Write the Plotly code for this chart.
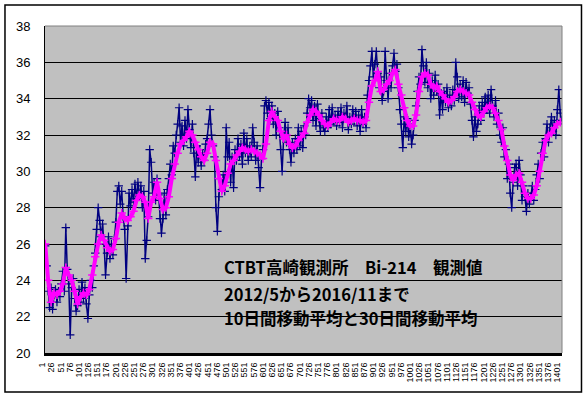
import plotly.graph_objects as go

# ---- data ----
# daily Bi-214 observations, sampled every 4th day (day 1, 5, 9, ...)
raw_step = 4
raw_values = [
    25.9, 24.8, 23.4, 22.5, 23.6, 22.4, 23.2, 23.5, 22.8, 23.4,
    23.1, 23.8, 24.5, 23.4, 26.9, 24.6, 23.8, 21.0, 23.6, 24.1,
    23.0, 22.3, 22.6, 23.5, 22.8, 23.9, 23.0, 23.6, 22.7, 21.9,
    23.2, 24.0, 23.6, 24.8, 25.5, 26.8, 28.0, 27.3, 26.4, 27.1,
    26.0, 24.3, 25.5, 26.4, 25.2, 26.0, 25.4, 26.3, 27.2, 28.9,
    29.2, 28.2, 28.9, 27.5, 26.8, 24.1, 27.0, 28.8, 28.1, 29.0,
    28.3, 29.3, 28.5, 29.4, 28.6, 29.2, 28.0, 28.9, 25.2, 26.2,
    27.5, 31.2, 30.5, 28.8, 29.4, 28.4, 29.6, 28.7, 27.4, 26.6,
    27.4, 28.8, 27.6, 29.0, 29.6, 30.4, 29.8, 31.4, 31.0, 32.0,
    32.6, 33.5, 31.6, 32.5, 31.4, 32.8, 31.8, 33.4, 32.3, 31.3,
    32.6, 31.0, 29.7, 31.4, 30.5, 31.2, 30.3, 31.0, 30.6, 31.5,
    31.8, 32.6, 33.4, 32.0, 31.4, 30.8, 28.0, 26.7, 28.6, 29.6,
    29.0, 29.8, 28.9, 32.4, 30.8, 31.6, 29.4, 30.8, 29.1, 31.2,
    30.6, 31.8, 30.8, 31.5, 30.4, 32.1, 31.0, 31.8, 30.6, 31.4,
    30.8, 32.4, 31.6, 30.6, 31.4, 30.2, 29.1, 30.7, 31.2, 33.6,
    33.9, 33.2, 33.8, 32.9, 33.6, 32.6, 33.2, 32.0, 33.3, 32.4,
    31.2, 30.0, 31.8, 32.7, 31.6, 32.4, 31.2, 30.5, 31.6, 31.0,
    31.8, 31.2, 32.4, 31.4, 32.2, 31.3, 32.5, 32.0, 33.2, 34.0,
    33.5, 33.9, 32.8, 33.6, 32.5, 33.7, 32.9, 32.2, 33.2, 32.4,
    32.2, 33.0, 32.4, 33.4, 32.6, 33.5, 32.8, 33.1, 32.5, 33.3,
    32.7, 33.5, 32.4, 33.2, 32.9, 33.6, 32.3, 33.0, 32.6, 33.4,
    32.8, 33.3, 32.5, 33.1, 32.2, 33.4, 32.6, 33.0, 32.4, 34.2,
    35.0, 35.8, 36.6, 35.2, 35.9, 36.6, 35.4, 34.6, 35.2, 33.9,
    34.4, 36.6, 35.0, 34.0, 35.4, 34.6, 35.8, 36.5, 35.5, 35.9,
    34.6, 33.4, 32.6, 31.3, 33.0, 32.2, 32.9, 31.9, 32.6, 31.5,
    32.0, 32.8, 33.6, 34.4, 35.2, 34.8, 36.7, 35.8, 34.9, 36.0,
    34.6, 35.4, 34.0, 35.0, 34.2, 35.3, 34.4, 34.8, 33.1, 34.3,
    33.4, 34.4, 33.8, 34.6, 33.5, 34.2, 33.6, 34.5, 33.9, 36.0,
    35.2, 34.0, 34.8, 34.1, 35.0, 33.8, 34.9, 34.3, 34.6, 33.7,
    32.8, 31.9, 33.0, 32.2, 32.6, 33.6, 32.8, 33.8, 33.2, 34.1,
    33.4, 34.2, 33.2, 34.5, 33.6, 33.0, 33.9, 32.6, 33.2, 32.0,
    31.6, 32.4, 30.8, 31.2, 29.6, 30.4, 28.8, 28.0, 29.4, 30.2,
    30.4, 29.2, 30.6, 29.8, 28.4, 29.2, 28.6, 27.8, 28.8, 28.2,
    28.6, 29.2, 28.4, 29.0, 29.8, 30.4, 29.6, 31.0, 31.6, 30.8,
    31.8, 32.6, 31.6, 32.4, 33.0, 32.2, 32.8, 32.0, 33.4, 34.5,
    33.2, 32.8,
]

# moving average line (magenta), sampled every 8th day
ma_step = 8
ma_values = [
    26.0, 24.0, 22.8, 23.3, 23.2,
    23.4, 23.8, 24.7, 24.3, 24.0,
    23.4, 22.7, 23.1, 23.3, 23.2,
    23.5, 24.3, 25.3, 26.0, 26.5,
    26.2, 25.8, 25.6, 25.7, 26.3,
    27.2, 27.7, 27.4, 27.3, 27.5,
    27.8, 28.4, 28.7, 28.6, 28.3,
    27.4, 28.3, 28.6, 29.4, 28.5,
    27.9, 28.0, 28.6, 29.6, 30.4,
    31.0, 31.5, 31.7, 31.9, 32.2,
    32.0, 31.6, 31.2, 30.8, 30.6,
    31.0, 31.6, 31.5, 30.6, 29.6,
    28.9, 29.2, 29.9, 30.4, 30.6,
    30.9, 31.1, 31.3, 31.2, 31.1,
    31.2, 31.1, 31.0, 30.9, 30.7,
    31.5, 32.8, 33.3, 33.0, 32.8,
    32.2, 31.8, 32.0, 31.5, 31.3,
    31.4, 31.7, 31.9, 32.1, 32.7,
    33.1, 33.4, 33.3, 33.1, 32.8,
    32.6, 32.5, 32.7, 32.9, 32.8,
    32.8, 33.0, 32.9, 32.7, 32.8,
    32.9, 32.8, 32.8, 32.7, 32.8,
    33.8, 34.7, 35.0, 35.5, 34.4,
    34.5, 34.8, 35.0, 35.4, 35.6,
    34.8, 34.2, 33.5, 32.8, 32.5,
    32.5, 33.1, 34.4, 35.2, 35.4,
    35.3, 34.8, 34.6, 34.7, 34.4,
    34.2, 34.0, 33.8, 33.9, 34.1,
    34.4, 34.5, 34.4, 34.3, 34.2,
    33.8, 33.4, 33.1, 33.0, 33.3,
    33.5, 33.6, 33.5, 33.2, 32.8,
    32.3, 31.4, 30.6, 29.8, 29.5,
    29.8, 29.9, 29.4, 28.8, 28.5,
    28.5, 28.7, 29.2, 30.0, 31.0,
    31.7, 32.0, 32.1, 32.4, 32.6,
    32.7,
]

n_days = 1405
tick_days = list(range(1, 1402, 25))
tick_labels = [str(d) for d in tick_days]
y_ticks = list(range(20, 39, 2))

title_lines = [
    "CTBT高崎観測所　Bi-214　観測値",
    "2012/5から2016/11まで",
    "10日間移動平均と30日間移動平均",
]

raw_days = [1 + raw_step * i for i in range(len(raw_values))]
ma_days = [1 + ma_step * i for i in range(len(ma_values))]

NAVY = "#000080"
MAGENTA = "#FF00FF"

fig = go.Figure()
fig.add_trace(go.Scatter(
    x=raw_days, y=raw_values, mode="lines+markers",
    line=dict(color=NAVY, width=1.5),
    marker=dict(symbol="cross-thin", size=6, line=dict(width=1.2, color=NAVY)),
    hoverinfo="skip", showlegend=False,
))
fig.add_trace(go.Scatter(
    x=ma_days, y=ma_values, mode="lines+markers",
    line=dict(color=MAGENTA, width=4),
    marker=dict(symbol="cross-thin", size=6, line=dict(width=1.5, color=MAGENTA)),
    hoverinfo="skip", showlegend=False,
))

fig.update_layout(
    template="none",
    width=588, height=395,
    margin=dict(l=45, r=26, t=26, b=42, autoexpand=False),
    paper_bgcolor="white",
    plot_bgcolor="#C0C0C0",
    font=dict(family="Liberation Sans, Arial, sans-serif", color="black"),
    showlegend=False,
)

fig.update_xaxes(
    automargin=False,
    range=[0.46, n_days + 0.7],
    tickmode="array", tickvals=tick_days, ticktext=tick_labels,
    tickangle=-90, tickfont=dict(size=9, family="Liberation Sans, Arial"),
    showgrid=False, zeroline=False,
    showline=True, linecolor="black", linewidth=3,
    ticks="", ticklabelstandoff=3, ticklabelshift=-3,
)
fig.update_yaxes(
    automargin=False,
    range=[20, 38], tickmode="array", tickvals=y_ticks,
    tickfont=dict(size=13, family="Liberation Sans, Arial"),
    showgrid=True, gridcolor="black", gridwidth=1,
    zeroline=False, showline=True, linecolor="black", linewidth=1,
    ticks="", ticklabelstandoff=11,
)

# plot-area border (top/right, gray) and outer chart frame
fig.add_shape(type="line", xref="paper", yref="paper", x0=0, x1=1, y0=1, y1=1,
              line=dict(color="#808080", width=1))
fig.add_shape(type="line", xref="paper", yref="paper", x0=1, x1=1, y0=0, y1=1,
              line=dict(color="#808080", width=1))
fig.add_shape(type="rect", xref="paper", yref="paper",
              x0=-0.0774, x1=1.0377, y0=-0.1193, y1=1.0642,
              line=dict(color="black", width=1.5), fillcolor="rgba(0,0,0,0)")

ann_y = [0.263, 0.180, 0.107]
for txt, yy in zip(title_lines, ann_y):
    fig.add_annotation(
        text="<b>" + txt + "</b>", xref="paper", yref="paper",
        x=0.342, y=yy, xanchor="left", yanchor="middle", showarrow=False,
        font=dict(family="Noto Sans CJK JP", size=16.5, color="black"),
    )

fig.write_html(
    "out.html",
    config={"displayModeBar": False, "staticPlot": True},
    post_script="document.body.style.margin='0';document.body.style.overflow='hidden';",
)
